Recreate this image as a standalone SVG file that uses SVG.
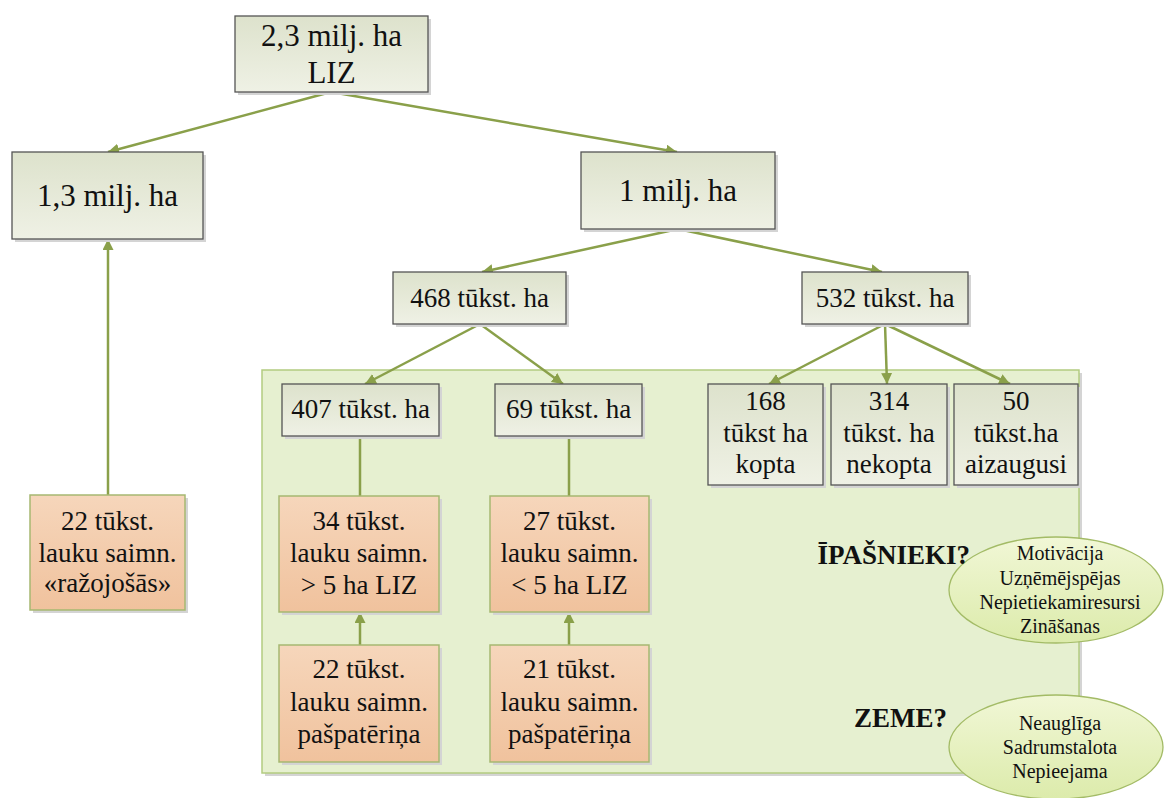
<svg xmlns="http://www.w3.org/2000/svg" width="1165" height="798" viewBox="0 0 1165 798">
<defs>
<linearGradient id="gGray" x1="0" y1="0" x2="0" y2="1"><stop offset="0" stop-color="#dde2cc"/><stop offset="1" stop-color="#eff1e5"/></linearGradient>
<linearGradient id="gOrange" x1="0" y1="0" x2="0" y2="1"><stop offset="0" stop-color="#f6d6bb"/><stop offset="1" stop-color="#f0c29d"/></linearGradient>
<linearGradient id="gEll" x1="0" y1="0" x2="0" y2="1"><stop offset="0" stop-color="#f1f7d6"/><stop offset="1" stop-color="#dcebab"/></linearGradient>
<marker id="arr" markerUnits="userSpaceOnUse" markerWidth="14" markerHeight="14" refX="11" refY="5.5" orient="auto"><path d="M0,0 L11,5.5 L0,11 z" fill="#8aa04a"/></marker>
</defs>
<style>
.sh{fill:#d4d4d4}
.gb{fill:url(#gGray);stroke:#555;stroke-width:1.3}
.ob{fill:url(#gOrange);stroke:#a6b871;stroke-width:1.5}
.el{fill:url(#gEll);stroke:#a3bb66;stroke-width:1.3}
.t{font-family:"Liberation Serif","Times New Roman",serif;fill:#111;text-anchor:middle}
.b{font-size:31px}
.m{font-size:27px}
.s{font-size:20px}
.h{font-family:"Liberation Serif","Times New Roman",serif;font-weight:bold;font-size:27px;fill:#111;text-anchor:end}
.c{stroke:#8aa04a;stroke-width:2.5;fill:none}
.ca{stroke:#8aa04a;stroke-width:2.5;fill:none;marker-end:url(#arr)}
</style>
<rect width="1165" height="798" fill="#fff"/>
<g id="container">
<rect class="sh" x="265" y="373" width="817" height="403"/>
<rect x="262" y="370" width="817" height="403" fill="#e6f0d0" stroke="#b3cc80" stroke-width="1.5"/>
</g>
<g id="connectors">
<line class="ca" x1="331" y1="92" x2="108" y2="152"/>
<line class="ca" x1="331" y1="92" x2="677" y2="152"/>
<line class="ca" x1="678" y1="229" x2="482" y2="272"/>
<line class="ca" x1="678" y1="229" x2="882" y2="272"/>
<line class="ca" x1="480" y1="324" x2="365" y2="384"/>
<line class="ca" x1="480" y1="324" x2="563" y2="384"/>
<line class="ca" x1="885" y1="324" x2="769" y2="384"/>
<line class="ca" x1="885" y1="324" x2="887" y2="384"/>
<line class="ca" x1="885" y1="324" x2="1010" y2="384"/>
<line class="ca" x1="108" y1="495" x2="108" y2="239"/>
<line class="c" x1="360" y1="436" x2="360" y2="496"/>
<line class="c" x1="569" y1="436" x2="569" y2="496"/>
<line class="ca" x1="360" y1="645" x2="360" y2="612"/>
<line class="ca" x1="569" y1="645" x2="569" y2="612"/>
</g>
<g id="n-top">
<rect class="sh" x="238" y="19" width="193" height="76"/>
<rect class="gb" x="235" y="16" width="193" height="76"/>
<text class="t b" x="331.5" y="46">2,3 milj. ha</text>
<text class="t b" x="331.5" y="83">LIZ</text>
</g>
<g id="n-13">
<rect class="sh" x="15" y="155" width="191" height="87"/>
<rect class="gb" x="12" y="152" width="191" height="87"/>
<text class="t b" x="107.5" y="206">1,3 milj. ha</text>
</g>
<g id="n-1">
<rect class="sh" x="584" y="155" width="194" height="77"/>
<rect class="gb" x="581" y="152" width="194" height="77"/>
<text class="t b" x="678" y="201">1 milj. ha</text>
</g>
<g id="n-468">
<rect class="sh" x="396" y="275" width="173" height="52"/>
<rect class="gb" x="393" y="272" width="173" height="52"/>
<text class="t m" x="479.5" y="307">468 tūkst. ha</text>
</g>
<g id="n-532">
<rect class="sh" x="805" y="275" width="166" height="52"/>
<rect class="gb" x="802" y="272" width="166" height="52"/>
<text class="t m" x="885" y="307">532 tūkst. ha</text>
</g>
<g id="n-407">
<rect class="sh" x="285" y="387" width="157" height="52"/>
<rect class="gb" x="282" y="384" width="157" height="52"/>
<text class="t m" x="360.5" y="418">407 tūkst. ha</text>
</g>
<g id="n-69">
<rect class="sh" x="498" y="387" width="147" height="52"/>
<rect class="gb" x="495" y="384" width="147" height="52"/>
<text class="t m" x="568.5" y="418">69 tūkst. ha</text>
</g>
<g id="n-168">
<rect class="sh" x="711" y="387" width="115" height="101"/>
<rect class="gb" x="708" y="384" width="115" height="101"/>
<text class="t m" x="765.5" y="410">168</text>
<text class="t m" x="765.5" y="442">tūkst ha</text>
<text class="t m" x="765.5" y="473">kopta</text>
</g>
<g id="n-314">
<rect class="sh" x="834" y="387" width="116" height="101"/>
<rect class="gb" x="831" y="384" width="116" height="101"/>
<text class="t m" x="889" y="410">314</text>
<text class="t m" x="889" y="442">tūkst. ha</text>
<text class="t m" x="889" y="473">nekopta</text>
</g>
<g id="n-50">
<rect class="sh" x="957" y="387" width="124" height="101"/>
<rect class="gb" x="954" y="384" width="124" height="101"/>
<text class="t m" x="1016" y="410">50</text>
<text class="t m" x="1016" y="442">tūkst.ha</text>
<text class="t m" x="1016" y="473">aizaugusi</text>
</g>
<g id="n-22r">
<rect class="sh" x="33" y="498" width="155" height="115"/>
<rect class="ob" x="30" y="495" width="155" height="115"/>
<text class="t m" x="107.5" y="530">22 tūkst.</text>
<text class="t m" x="107.5" y="562">lauku saimn.</text>
<text class="t m" x="107.5" y="592">«ražojošās»</text>
</g>
<g id="n-34">
<rect class="sh" x="282" y="499" width="160" height="116"/>
<rect class="ob" x="279" y="496" width="160" height="116"/>
<text class="t m" x="359" y="530">34 tūkst.</text>
<text class="t m" x="359" y="562">lauku saimn.</text>
<text class="t m" x="359" y="594">&gt; 5 ha LIZ</text>
</g>
<g id="n-27">
<rect class="sh" x="493" y="499" width="159" height="116"/>
<rect class="ob" x="490" y="496" width="159" height="116"/>
<text class="t m" x="569.5" y="530">27 tūkst.</text>
<text class="t m" x="569.5" y="562">lauku saimn.</text>
<text class="t m" x="569.5" y="594">&lt; 5 ha LIZ</text>
</g>
<g id="n-22p">
<rect class="sh" x="282" y="648" width="160" height="117"/>
<rect class="ob" x="279" y="645" width="160" height="117"/>
<text class="t m" x="359" y="678">22 tūkst.</text>
<text class="t m" x="359" y="711">lauku saimn.</text>
<text class="t m" x="359" y="743">pašpatēriņa</text>
</g>
<g id="n-21p">
<rect class="sh" x="493" y="648" width="159" height="117"/>
<rect class="ob" x="490" y="645" width="159" height="117"/>
<text class="t m" x="569.5" y="678">21 tūkst.</text>
<text class="t m" x="569.5" y="711">lauku saimn.</text>
<text class="t m" x="569.5" y="743">pašpatēriņa</text>
</g>
<g id="n-owners">
<ellipse class="el" cx="1056" cy="590" rx="107" ry="53"/>
<text class="t s" x="1060" y="560">Motivācija</text>
<text class="t s" x="1060" y="585">Uzņēmējspējas</text>
<text class="t s" x="1060" y="609">Nepietiekamiresursi</text>
<text class="t s" x="1060" y="633">Zināšanas</text>
<text class="h" x="970" y="564">ĪPAŠNIEKI?</text>
</g>
<g id="n-land">
<ellipse class="el" cx="1056" cy="747" rx="107" ry="52"/>
<text class="t s" x="1060" y="730">Neauglīga</text>
<text class="t s" x="1060" y="754">Sadrumstalota</text>
<text class="t s" x="1060" y="778">Nepieejama</text>
<text class="h" x="947" y="727">ZEME?</text>
</g>
</svg>
